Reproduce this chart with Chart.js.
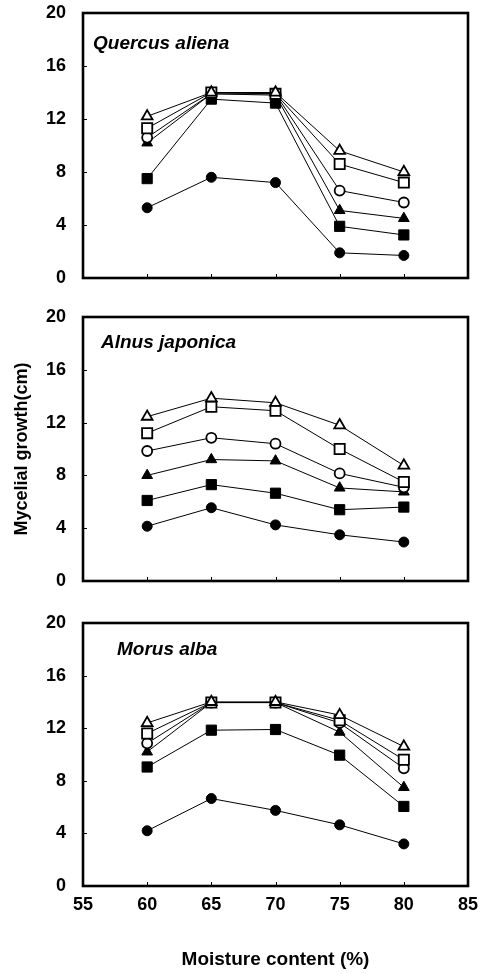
<!DOCTYPE html>
<html><head><meta charset="utf-8">
<script src="https://cdn.jsdelivr.net/npm/chart.js@4.4.0/dist/chart.umd.min.js"></script>
<style>
html,body{margin:0;padding:0;background:#fff;}
#wrap{position:relative;width:481px;height:974px;overflow:hidden;background:#fff;}
#wrap canvas{position:absolute;left:0;}
</style></head><body>
<div id="wrap">
<canvas id="c1" width="481" height="290" style="top:0px;width:481px;height:290px"></canvas>
<canvas id="c2" width="481" height="300" style="top:290px;width:481px;height:300px"></canvas>
<canvas id="c3" width="481" height="384" style="top:590px;width:481px;height:384px"></canvas>
</div>
<script>
// ---- data ----
const moisture = [60, 65, 70, 75, 80];
const xTickValues = [55, 60, 65, 70, 75, 80, 85];
const yTickValues = [0, 4, 8, 12, 16, 20];
const panelTitles = ['Quercus aliena', 'Alnus japonica', 'Morus alba'];
const yAxisTitle = 'Mycelial growth(cm)';
const xAxisTitle = 'Moisture content (%)';

// Quercus aliena
const quercusFilledCircle   = [5.3, 7.6, 7.2, 1.9, 1.7];
const quercusFilledSquare   = [7.5, 13.5, 13.2, 3.9, 3.25];
const quercusFilledTriangle = [10.2, 13.9, 13.8, 5.1, 4.5];
const quercusOpenCircle     = [10.6, 13.9, 13.9, 6.6, 5.7];
const quercusOpenSquare     = [11.3, 14.0, 13.9, 8.6, 7.2];
const quercusOpenTriangle   = [12.2, 14.0, 14.0, 9.6, 8.0];

// Alnus japonica
const alnusFilledCircle   = [4.15, 5.55, 4.25, 3.5, 2.95];
const alnusFilledSquare   = [6.1, 7.3, 6.65, 5.4, 5.6];
const alnusFilledTriangle = [8.0, 9.2, 9.1, 7.05, 6.75];
const alnusOpenCircle     = [9.85, 10.85, 10.4, 8.15, 7.1];
const alnusOpenSquare     = [11.2, 13.2, 12.9, 10.0, 7.5];
const alnusOpenTriangle   = [12.45, 13.85, 13.5, 11.8, 8.75];

// Morus alba
const morusFilledCircle   = [4.2, 6.65, 5.75, 4.65, 3.2];
const morusFilledSquare   = [9.05, 11.85, 11.9, 9.95, 6.05];
const morusFilledTriangle = [10.2, 13.95, 13.95, 11.7, 7.5];
const morusOpenCircle     = [10.85, 13.95, 13.95, 12.4, 8.95];
const morusOpenSquare     = [11.6, 13.95, 13.95, 12.6, 9.6];
const morusOpenTriangle   = [12.4, 14.0, 14.0, 13.0, 10.6];

// ---- helpers ----
const FONT = '"Liberation Sans", Arial, Helvetica, sans-serif';

function toPoints(arr) { return moisture.map((m, i) => ({ x: m, y: arr[i] })); }

function makeDataset(label, values, style, filled) {
  const radius = style === 'circle' ? 5 : (style === 'rect' ? 7.2 : 6.2);
  return {
    label: label,
    data: toPoints(values),
    borderColor: '#000',
    borderWidth: 1,
    pointStyle: style,
    pointRadius: radius,
    pointHoverRadius: radius,
    pointBackgroundColor: filled ? '#000' : '#fff',
    pointBorderColor: '#000',
    pointBorderWidth: filled ? 1 : 1.8,
    tension: 0,
    fill: false
  };
}

function seriesSet(fc, fs, ft, oc, os, ot) {
  return [
    makeDataset('open triangle', ot, 'triangle', false),
    makeDataset('open square', os, 'rect', false),
    makeDataset('open circle', oc, 'circle', false),
    makeDataset('filled triangle', ft, 'triangle', true),
    makeDataset('filled square', fs, 'rect', true),
    makeDataset('filled circle', fc, 'circle', true)
  ];
}

const framePlugin = {
  id: 'frame',
  afterDatasetsDraw(chart, args, opts) {
    const { ctx, chartArea: a } = chart;
    const xs = chart.scales.x, ys = chart.scales.y;
    ctx.save();
    ctx.strokeStyle = '#000';
    ctx.lineWidth = 1;
    ctx.beginPath();
    yTickValues.forEach(v => {
      if (v <= 0 || v >= 20) return;
      const py = Math.round(ys.getPixelForValue(v)) + 0.5;
      ctx.moveTo(a.left, py); ctx.lineTo(a.left + 4, py);
    });
    xTickValues.forEach(v => {
      if (v <= 55 || v >= 85) return;
      const px = Math.round(xs.getPixelForValue(v)) + 0.5;
      ctx.moveTo(px, a.bottom); ctx.lineTo(px, a.bottom - 4);
    });
    ctx.stroke();
    ctx.lineWidth = 2.6;
    ctx.strokeRect(a.left, a.top, a.right - a.left, a.bottom - a.top);
    // panel title
    ctx.fillStyle = '#000';
    ctx.font = 'italic bold 19px ' + FONT;
    ctx.textBaseline = 'middle';
    ctx.textAlign = 'left';
    ctx.fillText(opts.text, a.left + opts.dx, a.top + opts.dy);
    ctx.restore();
  }
};

function makeChart(id, datasets, cfg) {
  return new Chart(document.getElementById(id), {
    type: 'line',
    data: { datasets: datasets },
    options: {
      responsive: false,
      animation: false,
      devicePixelRatio: 1,
      events: [],
      layout: { padding: cfg.padding },
      plugins: {
        legend: { display: false },
        tooltip: { enabled: false },
        frame: cfg.title
      },
      scales: {
        x: {
          type: 'linear',
          min: 55, max: 85,
          display: cfg.showX,
          grid: { display: false, drawTicks: false },
          border: { display: false },
          afterBuildTicks: s => { s.ticks = xTickValues.map(v => ({ value: v })); },
          afterFit: s => {
            if (cfg.showX) s.height = cfg.xHeight;
            s.paddingLeft = 0; s.paddingRight = 0;
          },
          ticks: {
            color: '#000',
            padding: 8,
            maxRotation: 0,
            autoSkip: false,
            font: { family: FONT, size: 18, weight: 'bold' }
          },
          title: {
            display: cfg.showX,
            text: xAxisTitle,
            color: '#000',
            padding: { top: 0, bottom: 3 },
            font: { family: FONT, size: 19, weight: 'bold' }
          }
        },
        y: {
          type: 'linear',
          min: 0, max: 20,
          grid: { display: false, drawTicks: false },
          border: { display: false },
          afterBuildTicks: s => { s.ticks = yTickValues.map(v => ({ value: v })); },
          afterFit: s => { s.width = 83; s.paddingTop = 0; s.paddingBottom = 0; },
          ticks: {
            color: '#000',
            padding: 17,
            font: { family: FONT, size: 18, weight: 'bold' }
          },
          title: {
            display: cfg.showYTitle,
            text: yAxisTitle,
            color: '#000',
            padding: { top: 11, bottom: 0 },
            font: { family: FONT, size: 18, weight: 'bold' }
          }
        }
      }
    },
    plugins: [framePlugin]
  });
}

makeChart('c1',
  seriesSet(quercusFilledCircle, quercusFilledSquare, quercusFilledTriangle, quercusOpenCircle, quercusOpenSquare, quercusOpenTriangle),
  { padding: { top: 13, right: 13, bottom: 12, left: 0 }, showX: false, showYTitle: false,
    title: { text: panelTitles[0], dx: 10, dy: 31 } });

makeChart('c2',
  seriesSet(alnusFilledCircle, alnusFilledSquare, alnusFilledTriangle, alnusOpenCircle, alnusOpenSquare, alnusOpenTriangle),
  { padding: { top: 27, right: 13, bottom: 9, left: 0 }, showX: false, showYTitle: true,
    title: { text: panelTitles[1], dx: 18, dy: 26 } });

makeChart('c3',
  seriesSet(morusFilledCircle, morusFilledSquare, morusFilledTriangle, morusOpenCircle, morusOpenSquare, morusOpenTriangle),
  { padding: { top: 33, right: 13, bottom: 0, left: 0 }, showX: true, xHeight: 88, showYTitle: false,
    title: { text: panelTitles[2], dx: 34, dy: 27 } });
</script>
</body></html>
